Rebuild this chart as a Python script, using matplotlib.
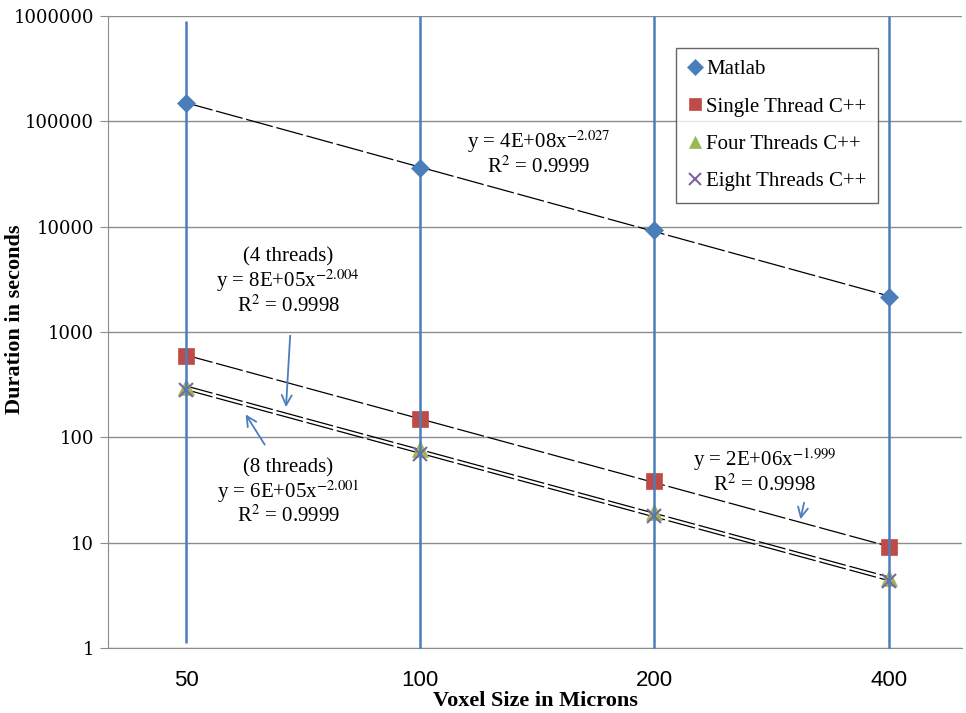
import numpy as np
import matplotlib
matplotlib.use('Agg')
import matplotlib.pyplot as plt

# voxel sizes (microns) and run times (seconds)
voxel = [50, 100, 200, 400]
matlab = [150000, 36100, 9300, 2160]
single_cpp = [595, 150, 38.5, 9.0]
four_cpp = [300, 78, 19.6, 4.6]
eight_cpp = [282, 70, 18.0, 4.3]

# vertical blue bars at each category
bar_lo = [1.12, 1.0, 1.0, 1.0]
bar_hi = [9.0e5, 1.0e6, 1.0e6, 1.0e6]

plt.rcParams['mathtext.fontset'] = 'stix'
serif = 'Liberation Serif'

fig = plt.figure(figsize=(9.66, 7.13), dpi=100)
ax = fig.add_axes([0.1118, 0.0912, 0.884, 0.8864])
ax.set_xscale('log', base=2)
ax.set_yscale('log')
ax.set_xlim(39.7, 497)
ax.set_ylim(1, 1e6)

blue = '#4a7ebb'
series = [
    ('Matlab', matlab, 'D', '#4a7ebb', 9),
    ('Single Thread C++', single_cpp, 's', '#be4b48', 11),
    ('Four Threads C++', four_cpp, '^', '#98b954', 11),
    ('Eight Threads C++', eight_cpp, 'x', '#8064a2', 10),
]

xs = np.array(voxel, dtype=float)
for name, vals, mk, col, ms in series:
    ax.plot(voxel, vals, linestyle='none', marker=mk, color=col, markersize=ms,
            markeredgewidth=1.5 if mk == 'x' else 0.5, label=name, zorder=3)
    # power trendline fitted in log space
    b, loga = np.polyfit(np.log(xs), np.log(vals), 1)
    xx = np.linspace(xs[0], xs[-1], 50)
    ax.plot(xx, np.exp(loga) * xx ** b, color='black', lw=0.9,
            dashes=(22, 3), zorder=2)

ax.vlines(voxel, bar_lo, bar_hi, color=blue, lw=1.8, zorder=4, clip_on=False)

# grid and axes styling
ax.grid(axis='y', which='major', color='#8c8c8c', lw=1)
ax.yaxis.set_minor_locator(matplotlib.ticker.NullLocator())
ax.xaxis.set_minor_locator(matplotlib.ticker.NullLocator())
ax.set_xticks(voxel)
ax.set_xticklabels([str(v) for v in voxel], fontfamily='Liberation Sans', fontsize=16)
yt = [1, 10, 100, 1000, 10000, 100000, 1000000]
ax.set_yticks(yt)
ax.set_yticklabels([str(v) for v in yt], fontfamily='DejaVu Serif', fontsize=13)
ax.tick_params(axis='x', length=0, pad=16)
ax.tick_params(axis='y', length=6, color='#8c8c8c', pad=4)
for s in ['top', 'right']:
    ax.spines[s].set_visible(False)
for s in ['left', 'bottom']:
    ax.spines[s].set_color('#8c8c8c')
ax.set_axisbelow(True)

ax.set_xlabel('Voxel Size in Microns', fontfamily=serif, fontweight='bold',
              fontsize=16, labelpad=0)
fig.text(15.5 / 966, 1 - 319 / 713, 'Duration in seconds', rotation=90,
         ha='center', va='center', fontfamily=serif, fontweight='bold',
         fontsize=16)

# trendline equations
tk = dict(fontfamily=serif, fontsize=15, ha='center', va='center',
          linespacing=1.05, zorder=5)
ax.text(142, 50000, 'y = 4E+08x$^{-2.027}$\nR$^2$ = 0.9999', **tk)
ax.text(67.7, 2990, '(4 threads)\ny = 8E+05x$^{-2.004}$\nR$^2$ = 0.9998', **tk)
ax.text(67.7, 30, '(8 threads)\ny = 6E+05x$^{-2.001}$\nR$^2$ = 0.9999', **tk)
ax.text(277, 48, 'y = 2E+06x$^{-1.999}$\nR$^2$ = 0.9998', **tk)

arr = dict(arrowstyle='->', color=blue, lw=1.3, mutation_scale=18)
ax.annotate('', xy=(67.2, 182), xytext=(68.1, 980), arrowprops=arr)
ax.annotate('', xy=(59.4, 174), xytext=(63.4, 81), arrowprops=arr)
ax.annotate('', xy=(307.6, 15.7), xytext=(312, 25.4), arrowprops=arr)

leg = ax.legend(loc='upper right', bbox_to_anchor=(0.902, 0.949),
                prop={'family': serif, 'size': 15}, frameon=True, fancybox=False,
                edgecolor='#404040', handlelength=0.7, handletextpad=0.2,
                labelspacing=0.85, borderpad=0.55, borderaxespad=0,
                markerscale=0.85)
leg.get_frame().set_linewidth(1)

fig.savefig('out.png', dpi=100)
